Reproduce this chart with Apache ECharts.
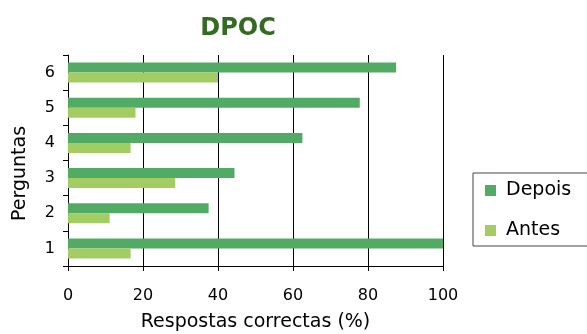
<!DOCTYPE html>
<html>
<head>
<meta charset="utf-8">
<script src="https://cdn.jsdelivr.net/npm/echarts@6/dist/echarts.min.js"></script>
<style>
  html, body { margin: 0; padding: 0; background: #fff; }
  #main { width: 587px; height: 334px; }
</style>
</head>
<body>
<div id="main"></div>
<script>
var myChart = echarts.init(document.getElementById('main'));

// dados
var perguntas = ['1', '2', '3', '4', '5', '6'];
var depois = [100, 37.5, 44.4, 62.5, 77.8, 87.5];
var antes = [16.7, 11.1, 28.6, 16.7, 18, 40];
var xTicks = [0, 20, 40, 60, 80, 100];

option = {
  animation: false,
  textStyle: { fontFamily: 'DejaVu Sans, sans-serif' },
  title: {
    text: 'DPOC',
    left: 233,
    top: 12,
    textAlign: 'center',
    textStyle: { color: '#336b22', fontSize: 24, fontWeight: 'bold' }
  },
  legend: {
    data: ['Depois', 'Antes'],
    orient: 'vertical',
    left: 473,
    top: 173,
    width: 130,
    padding: [8, 40, 6, 12],
    itemGap: 21,
    itemWidth: 11,
    itemHeight: 11,
    borderColor: '#444',
    borderWidth: 1,
    icon: 'rect',
    textStyle: { fontSize: 19, color: '#000', padding: [0, 0, 0, 5] }
  },
  grid: {
    left: 68,
    right: 144,
    top: 55,
    bottom: 68,
    containLabel: false,
    outerBoundsMode: 'none'
  },
  xAxis: {
    type: 'value',
    min: xTicks[0],
    max: xTicks[xTicks.length - 1],
    interval: 20,
    name: 'Respostas correctas (%)',
    nameLocation: 'middle',
    nameGap: 47,
    nameTextStyle: { fontSize: 19, color: '#000' },
    axisLine: { show: true, lineStyle: { color: '#000', width: 1 } },
    axisTick: { show: true, length: 5, lineStyle: { color: '#000' } },
    axisLabel: { fontSize: 16, color: '#000', margin: 22 },
    splitLine: { show: true, lineStyle: { color: '#000', width: 1 } }
  },
  yAxis: {
    type: 'category',
    data: perguntas,
    name: 'Perguntas',
    nameLocation: 'middle',
    nameGap: 38,
    nameTextStyle: { fontSize: 19, color: '#000', padding: [0, 26, 0, 0] },
    axisLine: { show: true, lineStyle: { color: '#000', width: 1 } },
    axisTick: { show: true, length: 5, lineStyle: { color: '#000' } },
    axisLabel: { fontSize: 16, color: '#000', margin: 13, padding: [8, 0, 0, 0] }
  },
  series: [
    {
      name: 'Depois',
      type: 'bar',
      barWidth: 10,
      barGap: '0%',
      itemStyle: { color: '#52ab64' },
      data: depois
    },
    {
      name: 'Antes',
      type: 'bar',
      barWidth: 10,
      barGap: '0%',
      itemStyle: { color: '#a3cd62' },
      data: antes
    }
  ]
};
myChart.setOption(option);
</script>
</body>
</html>
